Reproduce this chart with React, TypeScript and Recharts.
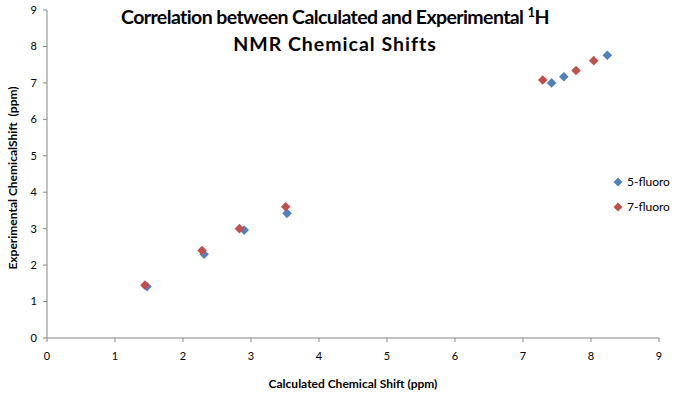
import React from "react";
import { ScatterChart, Scatter, XAxis, YAxis, Legend } from "recharts";

const fluoro5 = [
  { calc: 1.47, exp: 1.41 },
  { calc: 2.31, exp: 2.3 },
  { calc: 2.9, exp: 2.96 },
  { calc: 3.53, exp: 3.42 },
  { calc: 7.42, exp: 7.0 },
  { calc: 7.6, exp: 7.17 },
  { calc: 8.24, exp: 7.76 },
];

const fluoro7 = [
  { calc: 1.44, exp: 1.45 },
  { calc: 2.28, exp: 2.4 },
  { calc: 2.83, exp: 3.0 },
  { calc: 3.51, exp: 3.6 },
  { calc: 7.29, exp: 7.08 },
  { calc: 7.78, exp: 7.34 },
  { calc: 8.04, exp: 7.61 },
];

const ticks = [0, 1, 2, 3, 4, 5, 6, 7, 8, 9];

const seriesNames = ["5-fluoro", "7-fluoro"];
const seriesColors = ["#4F81BD", "#C0504D"];

const font = "Lato, 'Open Sans', sans-serif";
const axisColor = "#868686";

const Diamond = (props: any) => {
  const { cx, cy, fill } = props;
  const r = 4.8;
  return (
    <polygon
      points={`${cx},${cy - r} ${cx + r},${cy} ${cx},${cy + r} ${cx - r},${cy}`}
      fill={fill}
    />
  );
};

const LegendBox = () => (
  <div style={{ fontFamily: font, fontSize: 12, color: "#000" }}>
    {seriesNames.map((n, i) => (
      <div key={n} style={{ display: "flex", alignItems: "center", height: 25 }}>
        <svg width={10} height={10} style={{ marginRight: 4 }}>
          <polygon points="5,0.5 9.5,5 5,9.5 0.5,5" fill={seriesColors[i]} />
        </svg>
        {n}
      </div>
    ))}
  </div>
);

const YLabel = (props: any) => {
  const { viewBox } = props;
  const cy = viewBox.y + viewBox.height / 2 + 4;
  return (
    <text
      x={12}
      y={cy}
      transform={`rotate(-90, 12, ${cy})`}
      textAnchor="middle"
      dominantBaseline="central"
      style={{ fontFamily: font, fontSize: 12, fontWeight: "bold", fill: "#000", whiteSpace: "pre" }}
    >
      Experimental ChemicalShift  (ppm)
    </text>
  );
};

export default function App() {
  return (
    <div style={{ position: "absolute", top: 0, left: 0, width: 686, height: 408, background: "#fff" }}>
      <ScatterChart
        width={686}
        height={408}
        margin={{ top: 10, right: 27, bottom: 50, left: 7 }}
        style={{ overflow: "visible" }}
      >
        <XAxis
          type="number"
          dataKey="calc"
          domain={[0, 9]}
          ticks={ticks}
          height={20}
          stroke={axisColor}
          tickSize={4}
          tick={{ fill: "#000", fontSize: 11, fontFamily: font }}
          tickMargin={10}
          label={{
            value: "Calculated Chemical Shift (ppm)",
            position: "bottom",
            offset: 21,
            style: { fontFamily: font, fontSize: 12, fontWeight: "bold", fill: "#000" },
          }}
        />
        <YAxis
          type="number"
          dataKey="exp"
          domain={[0, 9]}
          ticks={ticks}
          width={40}
          stroke={axisColor}
          tickSize={4}
          tick={{ fill: "#000", fontSize: 11, fontFamily: font }}
          tickMargin={6}
          label={<YLabel />}
        />
        <Legend
          layout="horizontal"
          verticalAlign="middle"
          content={<LegendBox />}
          wrapperStyle={{ position: "absolute", left: 613, top: 169, width: 70 }}
        />
        <Scatter
          name={seriesNames[0]}
          data={fluoro5}
          fill={seriesColors[0]}
          shape={<Diamond />}
          isAnimationActive={false}
        />
        <Scatter
          name={seriesNames[1]}
          data={fluoro7}
          fill={seriesColors[1]}
          shape={<Diamond />}
          isAnimationActive={false}
        />
      </ScatterChart>
      <div
        style={{
          position: "absolute",
          top: 3,
          left: 0,
          width: 670,
          textAlign: "center",
          fontFamily: font,
          fontWeight: "bold",
          fontSize: 19.5,
          lineHeight: "27px",
          color: "#000",
          pointerEvents: "none",
        }}
      >
        <div style={{ letterSpacing: -0.6 }}>
          Correlation between Calculated and Experimental <sup style={{ fontSize: 13, lineHeight: 0 }}>1</sup>H
        </div>
        <div style={{ letterSpacing: 1 }}>NMR Chemical Shifts</div>
      </div>
    </div>
  );
}
